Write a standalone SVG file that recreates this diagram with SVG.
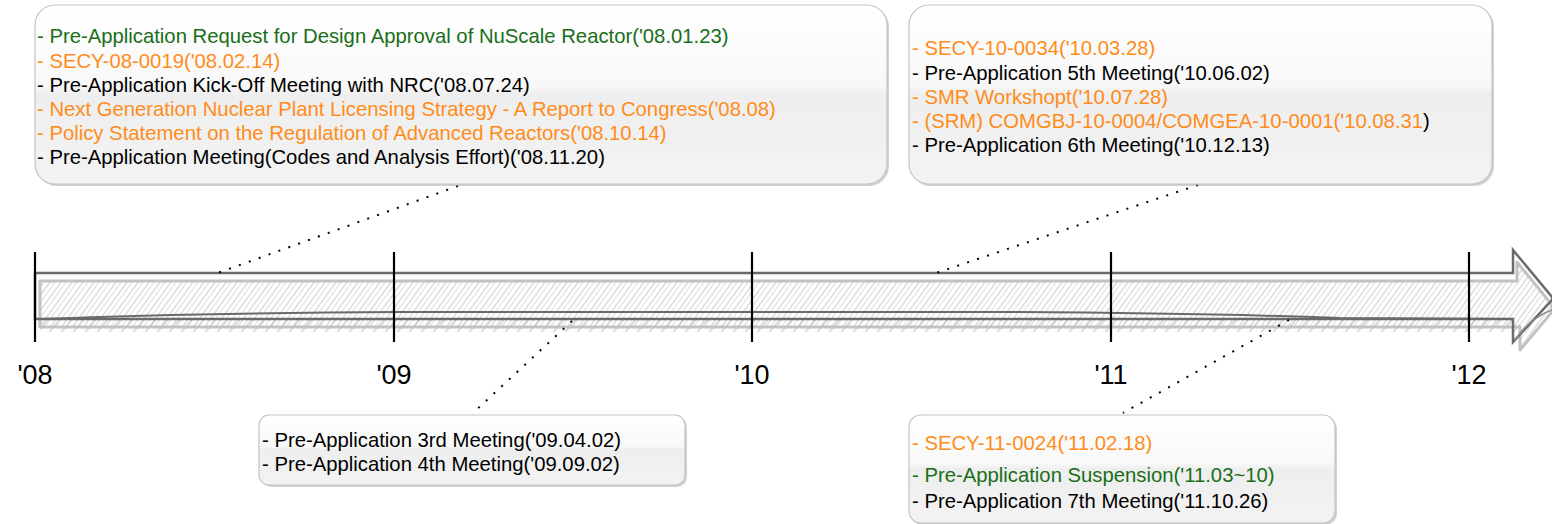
<svg xmlns="http://www.w3.org/2000/svg" width="1552" height="524" viewBox="0 0 1552 524">
<defs>
<style>
.t{font-family:"Liberation Sans",Arial,sans-serif;font-size:20.3px;fill:#000}
.o{fill:#ff8c1a}
.g{fill:#1a6e1a}
.yr{font-family:"Liberation Sans",Arial,sans-serif;font-size:27px;fill:#000;text-anchor:middle}
.box{stroke:#c4c4c4;stroke-width:1.2;fill:url(#boxg)}
.shadow{fill:#9a9a9a;opacity:0.45}
.tick{stroke:#000;stroke-width:2.2}
.dot{stroke:#000;stroke-width:2;stroke-dasharray:2 8.5;fill:none}
</style>
<linearGradient id="boxg" x1="0" y1="0" x2="0" y2="1">
<stop offset="0" stop-color="#ffffff"/>
<stop offset="0.45" stop-color="#f8f8f8"/>
<stop offset="0.5" stop-color="#eeeeee"/>
<stop offset="1" stop-color="#f3f3f3"/>
</linearGradient>
<pattern id="hatch" width="11" height="50" patternUnits="userSpaceOnUse" patternTransform="skewX(-36)">
<line x1="2" y1="0" x2="2" y2="50" stroke="#bdbdbd" stroke-width="1"/>
<line x1="7" y1="0" x2="7" y2="50" stroke="#d2d2d2" stroke-width="1"/>
</pattern>
<pattern id="hatch2" width="12" height="14" patternUnits="userSpaceOnUse" patternTransform="skewX(-40)">
<line x1="4" y1="0" x2="4" y2="14" stroke="#aaaaaa" stroke-width="1"/>
</pattern>
</defs>

<g id="timeline">
<rect x="40" y="318" width="1480" height="14" fill="url(#hatch2)"/>
<path d="M40,281 H1517 V262 L1552,305 L1552,312 L1520,350 V327 H40 Z" fill="url(#hatch)" stroke="#c2c2c2" stroke-width="3" stroke-linejoin="round"/>
<path d="M35,273 H1513 V250 L1552,297 L1552,300 L1513,342 V319 H35 Z" fill="none" stroke="#6a6a6a" stroke-width="2.5" stroke-linejoin="miter"/>
<path d="M40,319 Q200,313 400,312 L1000,312 Q1200,313 1340,318 L1513,319" fill="none" stroke="#6a6a6a" stroke-width="2"/>
<path d="M1515,340 Q1530,318 1552,310" fill="none" stroke="#8a8a8a" stroke-width="1.5"/>
</g>

<g id="ticks">
<line class="tick" x1="35" y1="252" x2="35" y2="342"/>
<line class="tick" x1="394" y1="252" x2="394" y2="342"/>
<line class="tick" x1="752" y1="252" x2="752" y2="342"/>
<line class="tick" x1="1111" y1="252" x2="1111" y2="342"/>
<line class="tick" x1="1469" y1="252" x2="1469" y2="342"/>
<text class="yr" x="35" y="384">'08</text>
<text class="yr" x="394" y="384">'09</text>
<text class="yr" x="752" y="384">'10</text>
<text class="yr" x="1111" y="384">'11</text>
<text class="yr" x="1469" y="384">'12</text>
</g>

<g id="connectors">
<line class="dot" x1="458" y1="186" x2="215" y2="274"/>
<line class="dot" x1="1198" y1="185" x2="933" y2="274"/>
<line class="dot" x1="572" y1="321" x2="473" y2="413"/>
<line class="dot" x1="1289" y1="320" x2="1123" y2="413"/>
</g>

<g id="box2008">
<rect class="shadow" x="37" y="7" width="852" height="179" rx="20"/>
<rect class="box" x="35" y="5" width="852" height="179" rx="20"/>
<text class="t g" x="37" y="43">- Pre-Application Request for Design Approval of NuScale Reactor('08.01.23)</text>
<text class="t o" x="37" y="68">- SECY-08-0019('08.02.14)</text>
<text class="t" x="37" y="92">- Pre-Application Kick-Off Meeting with NRC('08.07.24)</text>
<text class="t o" x="37" y="116">- Next Generation Nuclear Plant Licensing Strategy - A Report to Congress('08.08)</text>
<text class="t o" x="37" y="140">- Policy Statement on the Regulation of Advanced Reactors('08.10.14)</text>
<text class="t" x="37" y="164">- Pre-Application Meeting(Codes and Analysis Effort)('08.11.20)</text>
</g>

<g id="box2010">
<rect class="shadow" x="911" y="7" width="583" height="179" rx="20"/>
<rect class="box" x="909" y="5" width="583" height="179" rx="20"/>
<text class="t o" x="912" y="55">- SECY-10-0034('10.03.28)</text>
<text class="t" x="912" y="80">- Pre-Application 5th Meeting('10.06.02)</text>
<text class="t o" x="912" y="104">- SMR Workshopt('10.07.28)</text>
<text class="t o" x="912" y="128">- (SRM) COMGBJ-10-0004/COMGEA-10-0001('10.08.31<tspan fill="#000">)</tspan></text>
<text class="t" x="912" y="152">- Pre-Application 6th Meeting('10.12.13)</text>
</g>

<g id="box2009">
<rect class="shadow" x="261" y="417" width="426" height="70" rx="10"/>
<rect class="box" x="259" y="415" width="426" height="70" rx="10"/>
<text class="t" x="262" y="447">- Pre-Application 3rd Meeting('09.04.02)</text>
<text class="t" x="262" y="471">- Pre-Application 4th Meeting('09.09.02)</text>
</g>

<g id="box2011">
<rect class="shadow" x="911" y="417" width="426" height="108" rx="12"/>
<rect class="box" x="909" y="415" width="426" height="108" rx="12"/>
<text class="t o" x="912" y="450">- SECY-11-0024('11.02.18)</text>
<text class="t g" x="912" y="482">- Pre-Application Suspension('11.03~10)</text>
<text class="t" x="912" y="508">- Pre-Application 7th Meeting('11.10.26)</text>
</g>
</svg>
